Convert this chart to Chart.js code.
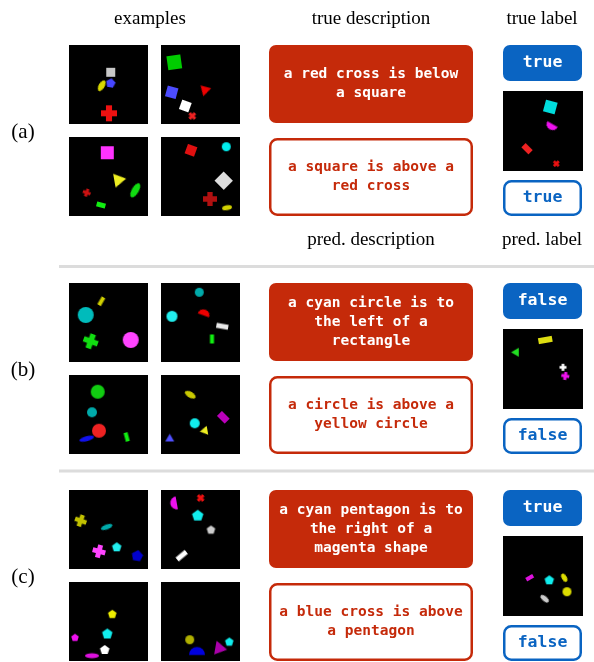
<!DOCTYPE html>
<html>
<head>
<meta charset="utf-8">
<script src="https://cdn.jsdelivr.net/npm/chart.js@4/dist/chart.umd.min.js"></script>
<style>
  html, body { margin: 0; padding: 0; background: #fff; }
</style>
</head>
<body>
<canvas id="chart" width="594" height="662"></canvas>
<script>
// panel names and text
const panelNames = ['(a)', '(b)', '(c)']
const trueDescriptions = [
  ['a red cross is below', 'a square'],
  ['a cyan circle is to', 'the left of a', 'rectangle'],
  ['a cyan pentagon is to', 'the right of a', 'magenta shape']
]
const predDescriptions = [
  ['a square is above a', 'red cross'],
  ['a circle is above a', 'yellow circle'],
  ['a blue cross is above', 'a pentagon']
]
const trueLabels = ['true', 'false', 'true']
const predLabels = ['true', 'false', 'false']

// scene contents: [kind, colour, x, y, width, height, angle] inside a 79px tile
// tiles 0-3 are the four examples, tile 4 is the query image
const scenesA = [
  [['square', '#c8c8c8', 41.7, 27.3, 9, 9, 0], ['ellipse', '#d8d800', 32.7, 40.7, 12, 6, -60],
   ['pentagon', '#4646ff', 41.7, 38.3, 10, 10, 10], ['plus', '#ee1111', 40, 68.3, 16, 16, 0]],
  [['square', '#00cc00', 13.3, 17.3, 14, 14, -8], ['square', '#4c4cff', 10.7, 47.3, 11, 11, 15],
   ['triangle', '#ee0000', 44, 45, 11, 11, 195], ['square', '#ffffff', 24.3, 61, 10, 10, 20],
   ['plus', '#ee2222', 31.3, 71, 8, 8, 45]],
  [['square', '#ff33ff', 38.3, 15.7, 13, 13, 0], ['triangle', '#eeee22', 49.3, 43, 14, 14, 80],
   ['ellipse', '#11dd11', 66.3, 53.3, 16, 7, -60], ['plus', '#cc1111', 17.7, 55.7, 8, 8, 20],
   ['rect', '#11ee11', 32, 68, 9, 5, 15]],
  [['square', '#e01010', 30, 13.3, 10, 10, 20], ['circle', '#00eeee', 65.3, 9.7, 9, 9, 0],
   ['square', '#dddddd', 62.7, 43.7, 13, 13, 45], ['plus', '#b01010', 49, 62, 14, 14, 0],
   ['ellipse', '#d0d000', 66, 70.7, 10, 5, -10]],
  [['square', '#00dddd', 47.3, 16, 12, 12, 15], ['semi', '#ee11ee', 48.3, 35.3, 12, 12, 210],
   ['rect', '#ee2222', 24, 57.7, 10, 6, 45], ['plus', '#ee1111', 53.3, 72.7, 7, 7, 45]]
]
const scenesB = [
  [['rect', '#d0d000', 32.3, 18.3, 9, 4, -60], ['circle', '#00bbbb', 16.7, 32, 16, 16, 0],
   ['plus', '#11dd11', 21.7, 58.3, 15, 15, 20], ['circle', '#ff44ff', 61.7, 57, 16, 16, 0]],
  [['circle', '#00aaaa', 38.3, 9.3, 9, 9, 0], ['circle', '#22eeee', 11, 33.3, 11, 11, 0],
   ['semi', '#ee0000', 43.3, 30, 12, 12, 20], ['rect', '#e8e8e8', 61.3, 43.3, 12, 5, 10],
   ['rect', '#11ee11', 51, 56, 4, 9, 0]],
  [['circle', '#11cc11', 28.7, 16.7, 14, 14, 0], ['circle', '#00aaaa', 23, 37.3, 10, 10, 0],
   ['circle', '#ee2222', 30, 55.7, 14, 14, 0], ['ellipse', '#1111ee', 17.7, 63.7, 15, 5, -15],
   ['rect', '#11ee11', 57.7, 62, 4, 9, -15]],
  [['ellipse', '#c8c800', 29.3, 19.7, 12, 6, 30], ['rect', '#bb00bb', 62.3, 42.3, 11, 7, 45],
   ['circle', '#11eeee', 33.7, 48.3, 10, 10, 0], ['triangle', '#eeee22', 44, 55.7, 9, 9, -100],
   ['triangle', '#5050ff', 8.7, 64, 9, 9, 0]],
  [['rect', '#dddd11', 42.3, 11, 14, 6, -10], ['triangle', '#22dd22', 13.3, 23.3, 9, 9, -90],
   ['plus', '#ffffff', 60, 38.3, 7, 7, 0], ['plus', '#ee11ee', 62.3, 47, 8, 8, 10]]
]
const scenesC = [
  [['plus', '#c0c000', 11.7, 30.7, 12, 12, 20], ['ellipse', '#00aaaa', 37.7, 37, 12, 5, -20],
   ['plus', '#ff44ff', 30, 61.3, 13, 13, 15], ['pentagon', '#22eeee', 47.7, 57.3, 10, 10, 0],
   ['pentagon', '#0000cc', 68.3, 66, 12, 12, 10]],
  [['semi', '#ee11ee', 13.3, 13.3, 13, 13, -100], ['plus', '#ee1111', 39.7, 8, 8, 8, 45],
   ['pentagon', '#11eeee', 36.7, 25.7, 12, 12, 0], ['pentagon', '#cccccc', 50, 40, 9, 9, 0],
   ['rect', '#ffffff', 20.7, 65.7, 12, 5, -40]],
  [['pentagon', '#eeee00', 43.3, 32.3, 9, 9, 0], ['pentagon', '#ee11ee', 6, 55.7, 8, 8, 0],
   ['pentagon', '#11eeee', 38.3, 52, 11, 11, 0], ['pentagon', '#ffffff', 35.7, 68, 10, 10, 0],
   ['ellipse', '#dd11dd', 23, 73.7, 14, 5, 0]],
  [['circle', '#b0b000', 28.7, 57.7, 9, 9, 0], ['semi', '#0000dd', 36, 69.7, 16, 16, 0],
   ['triangle', '#aa00aa', 58.3, 66.3, 14, 14, 100], ['pentagon', '#11eeee', 68.3, 60, 9, 9, 0]],
  [['rect', '#dd11dd', 26.7, 41.7, 8, 4, -30], ['pentagon', '#11eeee', 46.3, 44.3, 10, 10, 0],
   ['ellipse', '#dddd00', 61.3, 41.7, 9, 5, 60], ['circle', '#dddd00', 64, 55.7, 9, 9, 0],
   ['ellipse', '#cccccc', 41.7, 62.7, 10, 5, 40]]
]
const scenes = [scenesA, scenesB, scenesC]

// layout
const W = 594
const H = 662
const panelTop = [45, 283, 490]
const tileSize = 79
const tileCols = [69, 161]
const rowGap = 92
const boxX = 269
const boxW = 204
const boxH = 78
const labX = 503
const labW = 79
const labH = 36
const RED = '#c52a0a'
const BLUE = '#0a64c2'

function tileOrigin (p, t) {
  if (t === 4) return [labX, panelTop[p] + 46]
  return [tileCols[t % 2], panelTop[p] + Math.floor(t / 2) * rowGap]
}

function makeIcon (kind, colour, w, h) {
  const d = Math.ceil(Math.max(w, h)) + 6
  const c = document.createElement('canvas')
  c.width = d
  c.height = d
  const g = c.getContext('2d')
  g.translate(d / 2, d / 2)
  g.filter = 'blur(0.35px)'
  g.fillStyle = colour
  g.beginPath()
  if (kind === 'square' || kind === 'rect') {
    g.rect(-w / 2, -h / 2, w, h)
  } else if (kind === 'circle') {
    g.arc(0, 0, w / 2, 0, Math.PI * 2)
  } else if (kind === 'ellipse') {
    g.ellipse(0, 0, w / 2, h / 2, 0, 0, Math.PI * 2)
  } else if (kind === 'semi') {
    g.arc(0, w * 0.2, w / 2, Math.PI, Math.PI * 2)
    g.closePath()
  } else if (kind === 'triangle') {
    g.moveTo(0, -w * 0.58)
    g.lineTo(w / 2, w * 0.29)
    g.lineTo(-w / 2, w * 0.29)
    g.closePath()
  } else if (kind === 'pentagon') {
    for (let k = 0; k < 5; k++) {
      const a = -Math.PI / 2 + k * Math.PI * 2 / 5
      g.lineTo(Math.cos(a) * w / 2, Math.sin(a) * w / 2)
    }
    g.closePath()
  } else if (kind === 'plus') {
    const t = w * 0.38
    g.rect(-w / 2, -t / 2, w, t)
    g.rect(-t / 2, -w / 2, t, w)
  }
  g.fill()
  return c
}

const points = []
scenes.forEach((panel, p) => {
  panel.forEach((tile, t) => {
    const [ox, oy] = tileOrigin(p, t)
    tile.forEach(s => {
      points.push({ x: ox + s[2], y: oy + s[3], icon: makeIcon(s[0], s[1], s[4], s[5]), angle: s[6] })
    })
  })
})

function roundBox (ctx, x, y, w, h, r) {
  ctx.beginPath()
  ctx.roundRect(x, y, w, h, r)
}

const figurePlugin = {
  id: 'figure',
  beforeDatasetsDraw (chart) {
    const ctx = chart.ctx
    const xs = chart.scales.x
    const ys = chart.scales.y
    const px = v => xs.getPixelForValue(v)
    const py = v => ys.getPixelForValue(v)
    ctx.save()
    ctx.textAlign = 'center'
    ctx.textBaseline = 'middle'
    ctx.fillStyle = '#000'
    ctx.font = '19px "Liberation Serif", serif'
    ctx.fillText('examples', px(150), py(19))
    ctx.fillText('true description', px(371), py(19))
    ctx.fillText('true label', px(542), py(19))
    ctx.fillText('pred. description', px(371), py(240))
    ctx.fillText('pred. label', px(542), py(240))

    ctx.fillStyle = '#dcdcdc'
    ctx.fillRect(px(59), py(265), px(W) - px(59), 3)
    ctx.fillRect(px(59), py(469.5), px(W) - px(59), 3)

    panelNames.forEach((name, p) => {
      const top = panelTop[p]
      ctx.fillStyle = '#000'
      ctx.font = '21px "Liberation Serif", serif'
      ctx.fillText(name, px(23), py(top + 87))

      // tiles
      for (let t = 0; t < 5; t++) {
        const [ox, oy] = tileOrigin(p, t)
        const s = t === 4 ? 80 : tileSize
        ctx.fillStyle = '#000'
        ctx.fillRect(px(ox), py(oy), s, s)
      }

      // description boxes
      ctx.font = 'bold 14.5px "DejaVu Sans Mono", monospace'
      roundBox(ctx, px(boxX), py(top), boxW, boxH, 7)
      ctx.fillStyle = RED
      ctx.fill()
      ctx.fillStyle = '#fff'
      const tl = trueDescriptions[p]
      tl.forEach((line, i) => {
        ctx.fillText(line, px(boxX + boxW / 2), py(top + boxH / 2 + (i - (tl.length - 1) / 2) * 19))
      })
      const by = top + 93
      roundBox(ctx, px(boxX + 1.25), py(by + 1.25), boxW - 2.5, boxH - 2.5, 7)
      ctx.fillStyle = '#fff'
      ctx.fill()
      ctx.lineWidth = 2.5
      ctx.strokeStyle = RED
      ctx.stroke()
      ctx.fillStyle = RED
      const pl = predDescriptions[p]
      pl.forEach((line, i) => {
        ctx.fillText(line, px(boxX + boxW / 2), py(by + boxH / 2 + (i - (pl.length - 1) / 2) * 19))
      })

      // labels
      ctx.font = 'bold 16.5px "DejaVu Sans Mono", monospace'
      roundBox(ctx, px(labX), py(top), labW, labH, 7)
      ctx.fillStyle = BLUE
      ctx.fill()
      ctx.fillStyle = '#fff'
      ctx.fillText(trueLabels[p], px(labX + labW / 2), py(top + labH / 2))
      const ly = top + 135
      roundBox(ctx, px(labX + 1.25), py(ly + 1.25), labW - 2.5, labH - 2.5, 7)
      ctx.strokeStyle = BLUE
      ctx.stroke()
      ctx.fillStyle = BLUE
      ctx.fillText(predLabels[p], px(labX + labW / 2), py(ly + labH / 2))
    })
    ctx.restore()
  }
}

new Chart(document.getElementById('chart'), {
  type: 'scatter',
  data: {
    datasets: [{
      data: points,
      pointStyle: c => c.raw.icon,
      rotation: c => c.raw.angle,
      pointRadius: 5,
      showLine: false,
      clip: false
    }]
  },
  options: {
    responsive: false,
    animation: false,
    events: [],
    layout: { padding: 0, autoPadding: false },
    plugins: { legend: { display: false }, tooltip: { enabled: false } },
    scales: {
      x: { type: 'linear', min: 0, max: W, display: false },
      y: { type: 'linear', min: 0, max: H, reverse: true, display: false }
    }
  },
  plugins: [figurePlugin]
})
</script>
</body>
</html>
